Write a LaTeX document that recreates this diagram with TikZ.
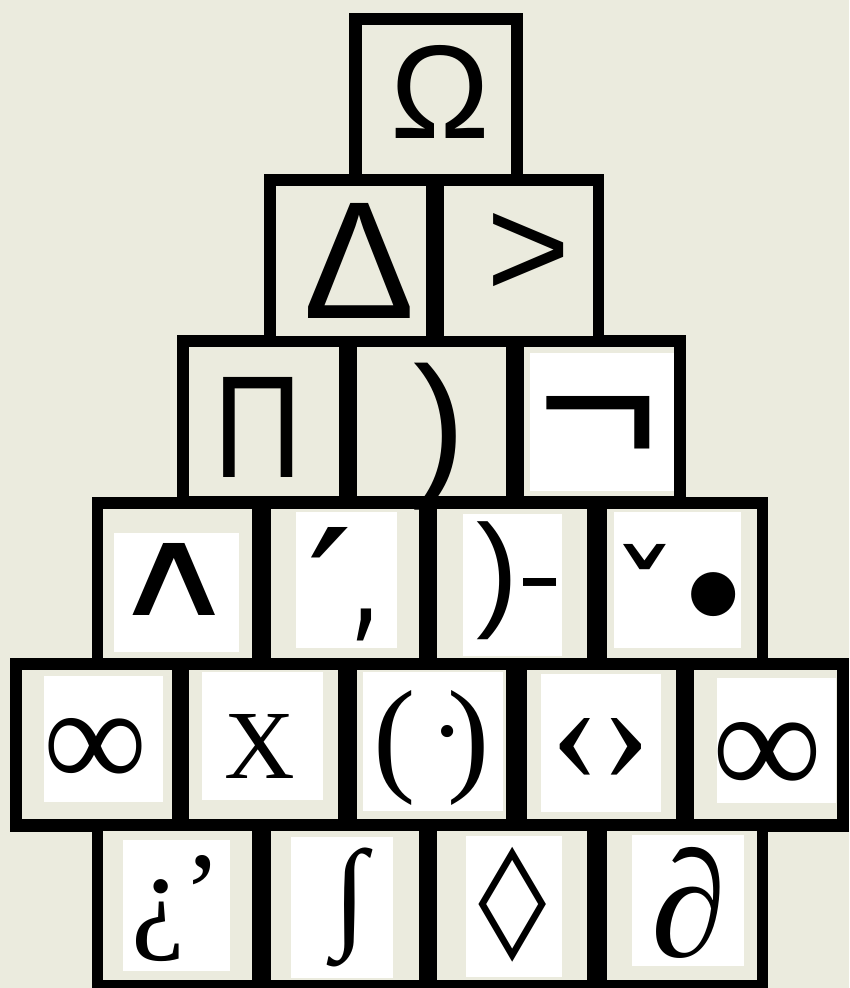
\documentclass[tikz,border=0pt]{standalone}
\usepackage{fontspec}
\usepackage{graphicx}
\setmainfont{Liberation Serif}
\setsansfont{Liberation Sans}
\newfontfamily\djv{DejaVu Sans}
\usetikzlibrary{fit}
\definecolor{bgc}{RGB}{235,235,222}
\newcommand\gl[2]{\resizebox*{!}{#1pt}{#2}}
\begin{document}
\begin{tikzpicture}[x=1pt,y=-1pt,
  rowblk/.style={fill=black},
  cellbox/.style={fill=bgc, inner sep=0pt, draw=none, rectangle},
  inset/.style={fill=white, inner sep=0pt, draw=none, rectangle},
  sym/.style={inner sep=0pt, anchor=center, text=black}]
\fill[bgc] (0,0) rectangle (849,988);
\useasboundingbox (0,0) rectangle (849,988);
% black row frames
\fill[rowblk] (349,13) rectangle (523,186);
\fill[rowblk] (264,174) rectangle (604,347);
\fill[rowblk] (177,335) rectangle (686,509);
\fill[rowblk] (92,497) rectangle (768,670);
\fill[rowblk] (10,658) rectangle (849,832);
\fill[rowblk] (92,819) rectangle (768,988);
% cells
\node[cellbox, fit={(362,25) (511,174)}] (c11) {};
\node[cellbox, fit={(276,186) (426,336)}] (c21) {};
\node[cellbox, fit={(444,186) (593,336)}] (c22) {};
\node[cellbox, fit={(189,347) (339,496)}] (c31) {};
\node[cellbox, fit={(357,347) (506,496)}] (c32) {};
\node[cellbox, fit={(524,347) (674,496)}] (c33) {};
\node[cellbox, fit={(103,509) (252,658)}] (c41) {};
\node[cellbox, fit={(271,509) (419,658)}] (c42) {};
\node[cellbox, fit={(437,509) (587,658)}] (c43) {};
\node[cellbox, fit={(607,509) (757,658)}] (c44) {};
\node[cellbox, fit={(22,670) (172,819)}] (c51) {};
\node[cellbox, fit={(189,670) (338,819)}] (c52) {};
\node[cellbox, fit={(357,670) (506,819)}] (c53) {};
\node[cellbox, fit={(527,670) (676,819)}] (c54) {};
\node[cellbox, fit={(694,670) (837,819)}] (c55) {};
\node[cellbox, fit={(103,831) (252,980)}] (c61) {};
\node[cellbox, fit={(271,831) (419,980)}] (c62) {};
\node[cellbox, fit={(437,831) (587,980)}] (c63) {};
\node[cellbox, fit={(607,831) (757,980)}] (c64) {};
% white insets
\node[inset, fit={(530,353) (674,491)}] (w33) {};
\node[inset, fit={(114,533) (239,652)}] (w41) {};
\node[inset, fit={(296,512) (397,648)}] (w42) {};
\node[inset, fit={(463,514) (562,656)}] (w43) {};
\node[inset, fit={(614,512) (741,648)}] (w44) {};
\node[inset, fit={(44,676) (163,802)}] (w51) {};
\node[inset, fit={(202,672) (323,800)}] (w52) {};
\node[inset, fit={(363,672) (503,811)}] (w53) {};
\node[inset, fit={(541,674) (661,812)}] (w54) {};
\node[inset, fit={(717,678) (836,803)}] (w55) {};
\node[inset, fit={(123,840) (230,971)}] (w61) {};
\node[inset, fit={(291,837) (393,978)}] (w62) {};
\node[inset, fit={(466,836) (562,977)}] (w63) {};
\node[inset, fit={(632,835) (744,966)}] (w64) {};
% symbols
\node[sym] (s11) at (440,91.5) {\gl{93}{\sffamily Ω}};
\node[sym] (s21) at (359.5,260.5) {\gl{115}{\sffamily Δ}};
\node[sym] (s22) at (528.5,255) {\gl{84}{\sffamily >}};
\node[sym] (s31) at (258.5,427) {\scalebox{0.85}[1]{\gl{100}{\sffamily Π}}};
\node[sym] (s32) at (440,436.5) {\gl{147}{\sffamily )}};
\node[sym] (s33) at (598.5,430.5) {\scalebox{1.13}[1]{\gl{69}{\sffamily ¬}}};
\node[sym] (s41) at (174,579) {\scalebox{1.4}[1]{\gl{72}{\djv ∧}}};
\node[sym] (s42a) at (330,588) {\scalebox{1.2}[1]{\gl{122}{\djv ′}}};
\node[sym] (s42b) at (365,625) {\scalebox{0.75}[1]{\gl{32}{\djv ,}}};
\node[sym] (s43a) at (498,581) {\gl{118}{\sffamily )}};
\node[sym] (s43b) at (540,593.5) {\resizebox*{45pt}{31pt}{\sffamily -}};
\node[sym] (s44a) at (644.5,599) {\gl{110}{\djv ˇ}};
\node[sym] (s44b) at (714,595) {\gl{44}{\djv ●}};
\node[sym] (s51) at (95.5,753) {\gl{70}{∞}};
\node[sym] (s52) at (260,746) {\gl{64}{X}};
\node[sym] (s53a) at (395,747.5) {\gl{115}{(}};
\node[sym] (s53b) at (448,745) {\gl{40}{·}};
\node[sym] (s53c) at (469,747.5) {\gl{115}{)}};
\node[sym] (s54a) at (575,749) {\gl{62}{‹}};
\node[sym] (s54b) at (626.5,749) {\gl{62}{›}};
\node[sym] (s55) at (767.5,759) {\gl{74}{∞}};
\node[sym] (s61a) at (158.5,921) {\gl{82}{¿}};
\node[sym] (s61b) at (202.5,893) {\gl{76}{’}};
\node[sym] (s62) at (350,907.5) {\gl{119}{∫}};
\node[sym] (s63) at (513,904.5) {\scalebox{1.25}[1]{\gl{115}{\djv ◊}}};
\node[sym] (s64) at (689,902.5) {\gl{111}{∂}};
\end{tikzpicture}
\end{document}
